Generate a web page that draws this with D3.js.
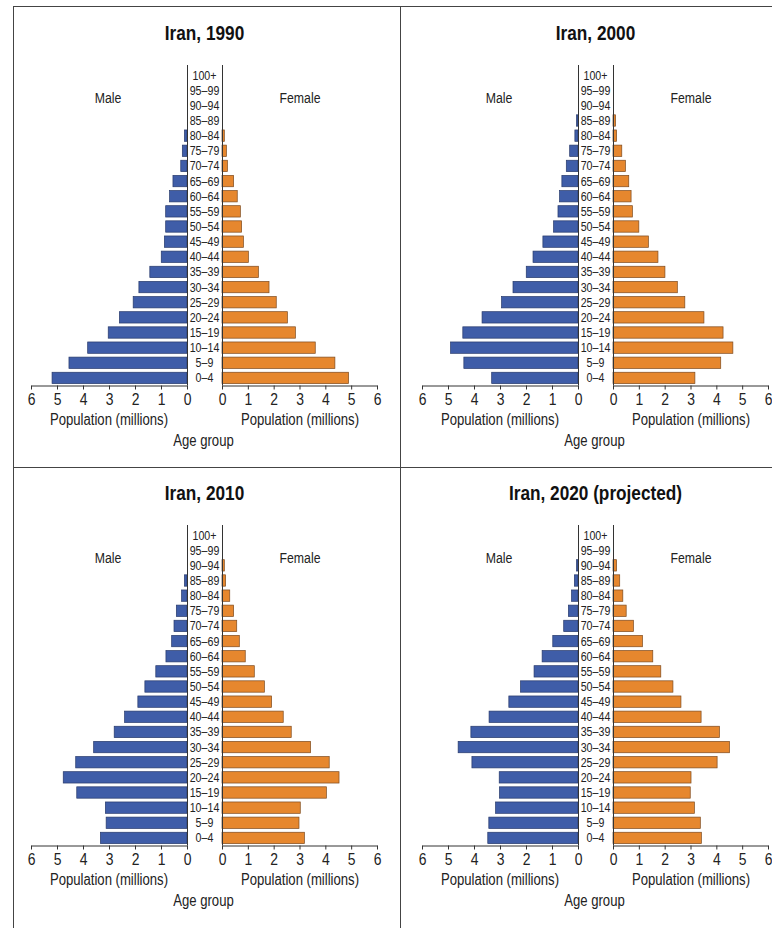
<!DOCTYPE html>
<html>
<head>
<meta charset="utf-8">
<script src="https://cdn.jsdelivr.net/npm/d3@7"></script>
<style>
  body { margin: 0; background: #fff; }
  svg { display: block; font-family: "Liberation Sans", Arial, sans-serif; }
  .tick text { font-size: 17px; fill: #222; }
  .tick line, .domain { stroke: #333; }
</style>
</head>
<body>
<div id="chart"></div>
<script>
/* Iran population pyramids, 1990-2020 */

const width = 772, height = 928;

// age groups, youngest first
const ages = ["0–4", "5–9", "10–14", "15–19", "20–24", "25–29", "30–34", "35–39", "40–44",
  "45–49", "50–54", "55–59", "60–64", "65–69", "70–74", "75–79", "80–84", "85–89",
  "90–94", "95–99", "100+"];

const titles = ["Iran, 1990", "Iran, 2000", "Iran, 2010", "Iran, 2020 (projected)"];
const popTicks = [0, 1, 2, 3, 4, 5, 6];

// population in millions, same order as ages
const male1990 = [5.19, 4.54, 3.82, 3.03, 2.6, 2.07, 1.85, 1.43, 0.99, 0.87, 0.82, 0.82, 0.67, 0.54, 0.24, 0.18, 0.1, 0, 0, 0, 0];
const female1990 = [4.9, 4.37, 3.61, 2.84, 2.53, 2.1, 1.82, 1.41, 1.02, 0.83, 0.76, 0.71, 0.59, 0.45, 0.21, 0.17, 0.09, 0, 0, 0, 0];
const male2000 = [3.32, 4.39, 4.9, 4.43, 3.69, 2.94, 2.5, 1.99, 1.73, 1.35, 0.94, 0.77, 0.71, 0.62, 0.45, 0.32, 0.12, 0.06, 0, 0, 0];
const female2000 = [3.17, 4.17, 4.64, 4.26, 3.52, 2.78, 2.49, 2.01, 1.74, 1.37, 1.0, 0.75, 0.7, 0.61, 0.48, 0.34, 0.14, 0.1, 0, 0, 0];
const male2010 = [3.33, 3.11, 3.14, 4.24, 4.76, 4.28, 3.59, 2.8, 2.4, 1.89, 1.62, 1.2, 0.81, 0.59, 0.5, 0.41, 0.21, 0.1, 0, 0, 0];
const female2010 = [3.19, 2.98, 3.03, 4.04, 4.53, 4.15, 3.43, 2.68, 2.37, 1.92, 1.64, 1.25, 0.9, 0.67, 0.57, 0.45, 0.3, 0.14, 0.09, 0, 0];
const male2020 = [3.47, 3.43, 3.17, 3.02, 3.03, 4.08, 4.61, 4.12, 3.42, 2.66, 2.21, 1.69, 1.38, 0.97, 0.55, 0.37, 0.25, 0.14, 0.06, 0, 0];
const female2020 = [3.42, 3.38, 3.15, 2.99, 3.02, 4.03, 4.51, 4.12, 3.41, 2.63, 2.32, 1.85, 1.54, 1.14, 0.79, 0.51, 0.38, 0.26, 0.14, 0, 0];

const maleSeries = [male1990, male2000, male2010, male2020];
const femaleSeries = [female1990, female2000, female2010, female2020];

const blue = "#3f5da8", orange = "#e6872e";
const narrow = 0.82; // no narrow font installed, squeeze text horizontally

const svg = d3.select("#chart").append("svg")
  .attr("width", width).attr("height", height)
  .attr("viewBox", [0, 0, width, height]);

// centred, horizontally squeezed text
function label(g, x, y, txt, size, bold) {
  return g.append("text")
    .attr("transform", `translate(${x},${y}) scale(${narrow},1)`)
    .attr("text-anchor", "middle")
    .attr("font-size", size)
    .attr("font-weight", bold ? "bold" : null)
    .attr("fill", bold ? "#111" : "#222")
    .text(txt);
}

// frame lines between panels
const frame = svg.append("g").attr("stroke", "#444").attr("stroke-width", 1);
frame.append("line").attr("x1", 13).attr("x2", width).attr("y1", 6.5).attr("y2", 6.5);
frame.append("line").attr("x1", 13.5).attr("x2", 13.5).attr("y1", 6).attr("y2", height);
frame.append("line").attr("x1", 400.5).attr("x2", 400.5).attr("y1", 6).attr("y2", height);
frame.append("line").attr("x1", 13).attr("x2", width).attr("y1", 467.5).attr("y2", 467.5);

// shared scales, panel-local coordinates
const xMale = d3.scaleLinear().domain([0, 6]).range([187, 31]);
const xFemale = d3.scaleLinear().domain([0, 6]).range([222, 377]);
const y = d3.scaleBand()
  .domain(ages.slice().reverse())
  .range([67.5, 385.5])
  .paddingInner(0.25)
  .paddingOuter(0.125);
const axisY = 385.5;
const midX = (xMale(0) + xFemale(0)) / 2;

const offsets = [[0, 0], [391, 0], [0, 460], [391, 460]];

titles.forEach((title, i) => {
  const g = svg.append("g").attr("transform", `translate(${offsets[i][0]},${offsets[i][1]})`);

  label(g, midX, 40, title, 21, true);
  label(g, 108, 103, "Male", 15);
  label(g, 300, 103, "Female", 15);

  const male = ages.map((a, k) => ({ age: a, v: maleSeries[i][k] })).filter(d => d.v > 0);
  const female = ages.map((a, k) => ({ age: a, v: femaleSeries[i][k] })).filter(d => d.v > 0);

  g.append("g").selectAll("rect").data(male).join("rect")
    .attr("x", d => xMale(d.v))
    .attr("y", d => y(d.age))
    .attr("width", d => xMale(0) - xMale(d.v))
    .attr("height", y.bandwidth())
    .attr("fill", blue)
    .attr("stroke", "#27396b").attr("stroke-width", 0.7);

  g.append("g").selectAll("rect").data(female).join("rect")
    .attr("x", xFemale(0))
    .attr("y", d => y(d.age))
    .attr("width", d => xFemale(d.v) - xFemale(0))
    .attr("height", y.bandwidth())
    .attr("fill", orange)
    .attr("stroke", "#7d4a1e").attr("stroke-width", 0.7);

  // vertical age axes
  [xMale(0), xFemale(0)].forEach(x0 => {
    g.append("line")
      .attr("x1", Math.round(x0) + 0.5).attr("x2", Math.round(x0) + 0.5)
      .attr("y1", 65).attr("y2", axisY)
      .attr("stroke", "#333");
  });

  // age labels
  ages.forEach(a => label(g, midX, y(a) + y.bandwidth() / 2 + 4.5, a, 13));

  [xMale, xFemale].forEach(sc => {
    const ax = g.append("g")
      .attr("transform", `translate(0,${axisY})`)
      .call(d3.axisBottom(sc).tickValues(popTicks).tickFormat(d3.format("d")).tickSize(4).tickSizeOuter(0));
    ax.selectAll(".tick text")
      .attr("transform", `scale(${narrow},1)`)
      .attr("x", function() { return 0; });
  });

  label(g, 109, 425, "Population (millions)", 16);
  label(g, 300, 425, "Population (millions)", 16);
  label(g, midX - 1, 446, "Age group", 16);
});
</script>
</body>
</html>
